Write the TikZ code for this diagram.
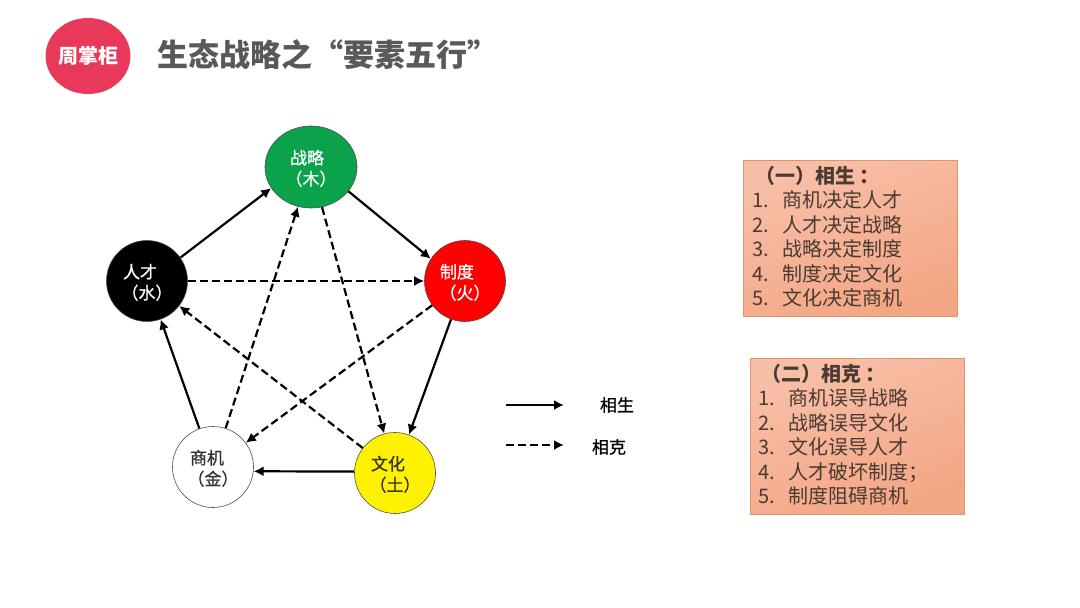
\documentclass[tikz,border=0pt]{standalone}
\usepackage{fontspec}
\setmainfont{Noto Sans CJK SC}
\newfontfamily\medfont[FakeBold=0.8]{Noto Sans CJK SC}
\usetikzlibrary{arrows.meta,positioning,shapes.geometric}
\definecolor{logored}{HTML}{E9395A}
\definecolor{titlegray}{HTML}{595959}
\definecolor{boxedge}{HTML}{E39468}
\definecolor{boxlight}{HTML}{F8BFA8}
\definecolor{boxdark}{HTML}{F3A684}
\definecolor{boxtext}{HTML}{4A3A32}
\definecolor{woodgreen}{HTML}{0BA24C}
\tikzset{
  element/.style={circle,draw=black!70,line width=0.6pt,minimum size=81pt,inner sep=0pt,
    align=center,font=\fontsize{17}{21}\selectfont\medfont},
  notebox/.style={draw=boxedge,line width=1pt,left color=boxlight,right color=boxdark,
    shading angle=20,minimum width=214pt,minimum height=156pt,anchor=north west},
  notetext/.style={anchor=north west,align=left,text=boxtext,inner sep=0pt,
    font=\fontsize{20}{24.4}\selectfont},
  arrow/.style={-{Latex[length=10pt,width=10pt]},line width=2.2pt},
  darrow/.style={arrow,dash pattern=on 8pt off 4pt},
  legendtext/.style={font=\fontsize{17}{20}\selectfont\medfont,inner sep=0pt}
}
\newcommand{\noteitem}[2]{\makebox[30pt][l]{#1.}#2}
\newcommand{\elemtext}[3]{\rule{0pt}{17pt}\mbox{#1\hspace{#3}}\\#2}
\begin{document}
\begin{tikzpicture}[x=1pt,y=-1pt]
\useasboundingbox (0,0) rectangle (1080,608);
% header
\node[ellipse,fill=logored,minimum width=84pt,minimum height=76pt,inner sep=0pt,text=white,font=\fontsize{20}{24}\selectfont\bfseries] (logo) at (88,56) {周掌柜};
\node[anchor=west,inner sep=0pt,text=titlegray,font=\fontsize{31}{36}\selectfont\bfseries] (title) at (157,55) {生态战略之“要素五行”};
% five elements
\node[element,ellipse,minimum width=92pt,minimum height=82pt,fill=woodgreen,text=white] (zhanlue) at (311,167) {\elemtext{战略}{（木）}{8pt}};
\node[element,fill=red,text=white] (zhidu) at (465,281) {\elemtext{制度}{（火）}{16pt}};
\node[element,fill=yellow,text=black!80] (wenhua) at (395,473) {\elemtext{文化}{（土）}{14pt}};
\node[element,fill=white,text=black!80] (shangji) at (213,467) {\elemtext{商机}{（金）}{12pt}};
\node[element,fill=black,text=white] (rencai) at (147,281) {\elemtext{人才}{（水）}{14pt}};
\draw[arrow] (rencai.35)--(zhanlue.-152); \draw[arrow] (zhanlue.-33)--(zhidu.147);
\draw[arrow] (zhidu)--(wenhua); \draw[arrow] (wenhua.178)--(shangji.-6);
\draw[arrow] (shangji)--(rencai);
\draw[darrow] (rencai)--(zhidu); \draw[darrow] (zhidu)--(shangji);
\draw[darrow] (shangji)--(zhanlue); \draw[darrow] (zhanlue)--(wenhua);
\draw[darrow] (wenhua)--(rencai);
% legend
\coordinate (solidstart) at (506,405); \coordinate (solidend) at (564,405);
\coordinate (dashstart) at (506,445); \coordinate (dashend) at (564,445);
\draw[arrow] (solidstart)--(solidend);
\draw[darrow] (dashstart)--(dashend);
\node[legendtext] (shenglabel) at (617,405) {相生};
\node[legendtext] (kelabel) at (609,447) {相克};
% notes
\node[notebox] (shengbox) at (743,160) {};
\node[notetext] (shengtext) at (752,166) {\hspace{3pt}\textbf{（一）相生 ：}\\
\noteitem{1}{商机决定人才}\\ \noteitem{2}{人才决定战略}\\ \noteitem{3}{战略决定制度}\\
\noteitem{4}{制度决定文化}\\ \noteitem{5}{文化决定商机}};
\node[notebox] (kebox) at (750,358) {};
\node[notetext] (ketext) at (758,364) {\hspace{3pt}\textbf{（二）相克 ：}\\
\noteitem{1}{商机误导战略}\\ \noteitem{2}{战略误导文化}\\ \noteitem{3}{文化误导人才}\\
\noteitem{4}{人才破坏制度；}\\ \noteitem{5}{制度阻碍商机}};
\end{tikzpicture}
\end{document}
